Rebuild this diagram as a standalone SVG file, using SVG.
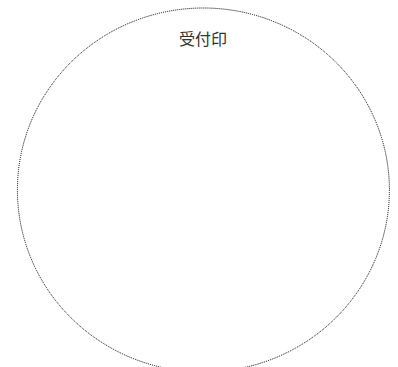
<svg xmlns="http://www.w3.org/2000/svg" width="398" height="367" viewBox="0 0 398 367">
<style>
.stamp{fill:none;stroke:#000;stroke-width:1;stroke-dasharray:1 1}
.lbl{font-family:"Noto Sans CJK JP","Noto Sans CJK SC",sans-serif;font-size:16px;fill:#333;text-anchor:middle}
</style>
<rect width="398" height="367" fill="#fff"/>
<g id="stamp-area">
<ellipse class="stamp" cx="203.4" cy="190" rx="186" ry="182"/>
<text class="lbl" x="203" y="45">受付印</text>
</g>
</svg>
